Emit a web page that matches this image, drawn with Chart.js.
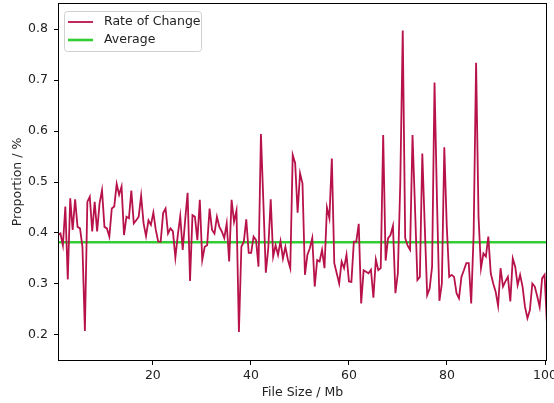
<!DOCTYPE html>
<html>
<head>
<meta charset="utf-8">
<script src="https://cdn.jsdelivr.net/npm/chart.js@4/dist/chart.umd.min.js"></script>
<style>
  html, body { margin: 0; padding: 0; background: #fff; }
  #wrap { width: 554px; height: 403px; }
</style>
</head>
<body>
<div id="wrap"><canvas id="lineChart" width="554" height="403"></canvas></div>
<script>
// data
var seriesLabels = ["Rate of Change", "Average"];
var xRange = [0.65, 100.4];          // file size, Mb
var xTicks = [20, 40, 60, 80, 100];
var yTicks = [0.2, 0.3, 0.4, 0.5, 0.6, 0.7, 0.8];
var yRange = [0.149, 0.851];
var averageValue = 0.382;
var rateOfChange = [
  0.396, 0.399, 0.376, 0.452, 0.309, 0.468, 0.406, 0.466, 0.412, 0.409,
  0.373, 0.208, 0.461, 0.471, 0.403, 0.461, 0.403, 0.458, 0.484, 0.412,
  0.409, 0.393, 0.448, 0.452, 0.496, 0.475, 0.491, 0.396, 0.432, 0.429,
  0.483, 0.419, 0.425, 0.432, 0.473, 0.419, 0.394, 0.425, 0.416, 0.440,
  0.406, 0.383, 0.383, 0.439, 0.448, 0.399, 0.409, 0.403, 0.352, 0.396,
  0.433, 0.367, 0.425, 0.479, 0.306, 0.435, 0.432, 0.386, 0.465, 0.347,
  0.373, 0.376, 0.448, 0.406, 0.399, 0.432, 0.412, 0.403, 0.390, 0.419,
  0.344, 0.465, 0.422, 0.444, 0.206, 0.373, 0.383, 0.427, 0.361, 0.361,
  0.393, 0.386, 0.334, 0.594, 0.460, 0.322, 0.370, 0.466, 0.354, 0.376,
  0.357, 0.384, 0.350, 0.373, 0.348, 0.331, 0.553, 0.537, 0.440, 0.517, 0.497,
  0.318, 0.357, 0.370, 0.390, 0.295, 0.347, 0.344, 0.367, 0.331, 0.450,
  0.429, 0.546, 0.341, 0.321, 0.301, 0.344, 0.331, 0.357, 0.305, 0.304,
  0.383, 0.383, 0.418, 0.262, 0.327, 0.324, 0.321, 0.328, 0.273, 0.348,
  0.327, 0.331, 0.592, 0.346, 0.390, 0.396, 0.414, 0.282, 0.321, 0.500,
  0.797, 0.390, 0.375, 0.367, 0.592, 0.452, 0.308, 0.314, 0.556, 0.414,
  0.278, 0.291, 0.334, 0.695, 0.465, 0.267, 0.301, 0.568, 0.414, 0.314,
  0.318, 0.314, 0.282, 0.272, 0.314, 0.327, 0.341, 0.341, 0.262, 0.399,
  0.734, 0.432, 0.331, 0.360, 0.354, 0.393, 0.321, 0.301, 0.285, 0.257,
  0.331, 0.295, 0.305, 0.314, 0.266, 0.350, 0.334, 0.298, 0.318, 0.295,
  0.255, 0.233, 0.249, 0.301, 0.295, 0.276, 0.255, 0.311, 0.318, 0.220
];

// file sizes are evenly spaced over the x range
var step = (xRange[1] - xRange[0]) / (rateOfChange.length - 1);
var ratePoints = rateOfChange.map(function (v, i) {
  return { x: xRange[0] + i * step, y: v };
});
var avgPoints = [{ x: xRange[0], y: averageValue }, { x: xRange[1], y: averageValue }];

var fontFam = "'DejaVu Sans', sans-serif";
var textColor = '#222';

// matplotlib-style frame + legend box in the top-left
var framePlugin = {
  id: 'frame',
  afterDraw: function (chart) {
    var ctx = chart.ctx, a = chart.chartArea;
    ctx.save();
    ctx.strokeStyle = '#000';
    ctx.lineWidth = 1;
    ctx.strokeRect(Math.round(a.left) + 0.5, Math.round(a.top) + 0.5,
      Math.round(a.right - a.left) - 1, Math.round(a.bottom - a.top) - 1);

    var bx = a.left + 6, by = a.top + 8, bw = 137, bh = 40;
    ctx.fillStyle = 'rgba(255,255,255,0.85)';
    ctx.strokeStyle = '#d0d0d0';
    ctx.beginPath();
    ctx.roundRect(bx + 0.5, by + 0.5, bw, bh, 3);
    ctx.fill();
    ctx.stroke();
    ctx.font = '12.5px ' + fontFam;
    ctx.textBaseline = 'middle';
    chart.data.datasets.forEach(function (ds, i) {
      var yy = by + 11 + i * 18;
      ctx.strokeStyle = ds.borderColor;
      ctx.lineWidth = ds.borderWidth;
      ctx.beginPath();
      ctx.moveTo(bx + 4, yy);
      ctx.lineTo(bx + 29, yy);
      ctx.stroke();
      ctx.fillStyle = textColor;
      ctx.fillText(ds.label, bx + 40, yy);
    });
    ctx.restore();
  }
};

var ctxL = document.getElementById('lineChart').getContext('2d');
var myLineChart = new Chart(ctxL, {
  type: 'line',
  data: {
    datasets: [{
        label: seriesLabels[0],
        data: ratePoints,
        borderColor: '#b8124a',
        borderWidth: 1.8,
        pointRadius: 0,
        tension: 0,
        fill: false
      },
      {
        label: seriesLabels[1],
        data: avgPoints,
        borderColor: '#32cd32',
        borderWidth: 2.6,
        pointRadius: 0,
        fill: false
      }
    ]
  },
  options: {
    responsive: false,
    animation: false,
    layout: { padding: { top: 3, right: 7, left: 0, bottom: 0 } },
    plugins: {
      legend: { display: false },
      tooltip: { enabled: false }
    },
    scales: {
      x: {
        type: 'linear',
        min: xRange[0],
        max: xRange[1],
        afterFit: function (s) { s.height = 42; s.paddingLeft = 0; s.paddingRight = 0; },
        afterBuildTicks: function (s) { s.ticks = xTicks.map(function (v) { return { value: v }; }); },
        grid: { drawOnChartArea: false, drawTicks: true, tickLength: 4, color: '#000' },
        border: { display: false },
        ticks: { color: textColor, padding: 3, font: { family: fontFam, size: 12.5 }, maxRotation: 0 },
        title: { display: true, text: 'File Size / Mb', color: textColor,
          font: { family: fontFam, size: 12.5 }, padding: { top: 0, bottom: 3 } }
      },
      y: {
        min: yRange[0],
        max: yRange[1],
        afterFit: function (s) { s.width = 58; s.paddingTop = 0; s.paddingBottom = 0; },
        afterBuildTicks: function (s) { s.ticks = yTicks.map(function (v) { return { value: v }; }); },
        grid: { drawOnChartArea: false, drawTicks: true, tickLength: 4, color: '#000' },
        border: { display: false },
        ticks: { color: textColor, padding: 6, font: { family: fontFam, size: 12.5 },
          callback: function (v) { return v.toFixed(1); } },
        title: { display: true, text: 'Proportion / %', color: textColor,
          font: { family: fontFam, size: 12.5 }, padding: { top: 10, bottom: 0 } }
      }
    }
  },
  plugins: [framePlugin]
});
</script>
</body>
</html>
